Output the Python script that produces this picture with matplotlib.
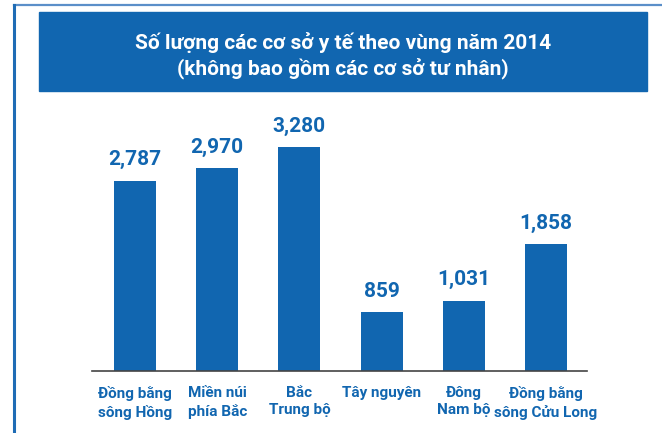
import matplotlib
matplotlib.use("Agg")
import matplotlib.pyplot as plt
from matplotlib.patches import Rectangle
from matplotlib.lines import Line2D
import matplotlib.transforms as mtransforms

regions = ["Đồng bằng\nsông Hồng", "Miền núi\nphía Bắc", "Bắc\nTrung bộ",
           "Tây nguyên", "Đông\nNam bộ", "Đồng bằng\nsông Cửu Long"]
counts = [2787, 2970, 3280, 859, 1031, 1858]
title_lines = "Số lượng các cơ sở y tế theo vùng năm 2014\n(không bao gồm các cơ sở tư nhân)"

BLUE = "#1166b0"
FONT = ["Roboto", "DejaVu Sans"]

W, H = 662, 433
fig = plt.figure(figsize=(W / 100, H / 100), dpi=100)

# frame lines
fig.add_artist(Line2D([14 / W, 1], [1 - 5 / H, 1 - 5 / H], color="#5b8fc9", lw=1.6))
fig.add_artist(Line2D([14 / W, 14 / W], [0, 1 - 5 / H], color="#1f6cb5", lw=2.2))

# title banner
fig.add_artist(Rectangle((39 / W, 1 - 91 / H), (647 - 39) / W, 79 / H,
                         transform=fig.transFigure, color=BLUE, zorder=1))
fig.text(343 / W, 1 - 56 / H, title_lines, color="white", ha="center", va="center",
         fontsize=15, fontweight="bold", family=FONT, linespacing=1.35)

ax = fig.add_axes([92 / W, 1 - 371 / H, 495 / W, 246 / H])
x = range(len(counts))
ax.bar(x, counts, width=0.512, color=BLUE)
ax.set_xlim(-0.524, 5.5)
ax.set_ylim(0, 3600)
for s in ["top", "right", "left"]:
    ax.spines[s].set_visible(False)
ax.spines["bottom"].set_color("#444444")
ax.spines["bottom"].set_linewidth(1.2)
ax.set_yticks([])
ax.set_xticks([])

for i, v in enumerate(counts):
    ax.annotate(f"{v:,}", (i, v), xytext=(0, 8), textcoords="offset points",
                ha="center", va="bottom", color=BLUE, fontsize=15,
                fontweight="bold", family=FONT)

trans = mtransforms.blended_transform_factory(ax.transData, ax.transAxes)
for i, lab in enumerate(regions):
    ax.text(i, -15 / 246, lab, transform=trans, ha="center", va="top",
            color=BLUE, fontsize=11, fontweight="bold", family=FONT,
            linespacing=1.3)

fig.savefig("out.png", dpi=100)
